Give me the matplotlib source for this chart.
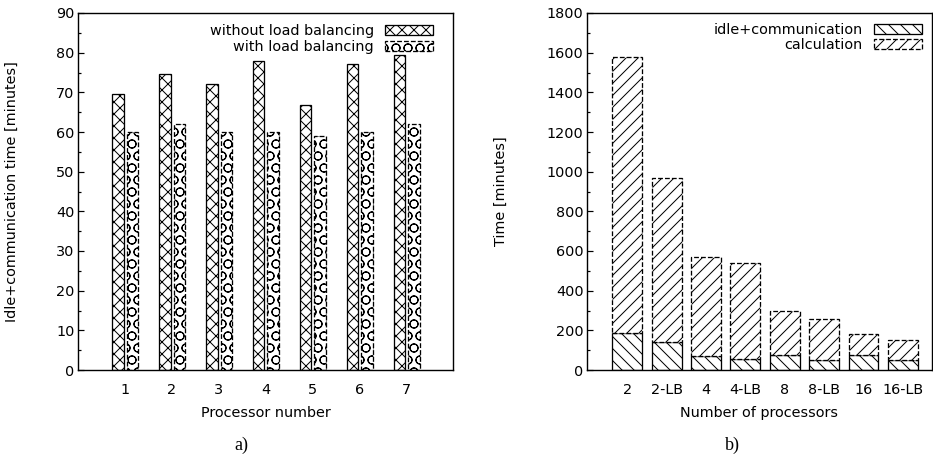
import matplotlib
matplotlib.use("Agg")
import matplotlib.pyplot as plt
import numpy as np

# ---- data ----
procs = [1, 2, 3, 4, 5, 6, 7]
without_lb = [69.5, 74.5, 72.0, 77.8, 66.7, 77.1, 79.5]
with_lb = [60.0, 62.0, 60.0, 60.0, 59.0, 60.0, 62.0]

cats_b = ["2", "2-LB", "4", "4-LB", "8", "8-LB", "16", "16-LB"]
idle_comm = [185, 140, 70, 55, 75, 50, 75, 50]
total_time = [1580, 970, 570, 540, 295, 255, 180, 150]
calc = [t - i for t, i in zip(total_time, idle_comm)]

plt.rcParams['font.family'] = ['DejaVu Sans']
plt.rcParams['hatch.linewidth'] = 1.0
FS = 14.4  # at 72 dpi, points == pixels

W, H = 933, 459
DPI = 72
fig = plt.figure(figsize=(W / DPI, H / DPI), dpi=DPI)

def ax_rect(l, r, t, b):
    return [l / W, (H - b) / H, (r - l) / W, (b - t) / H]

# ---- left panel ----
ax1 = fig.add_axes(ax_rect(78, 453, 13, 370))
x = np.array(procs, dtype=float)
bw = 0.245
ax1.bar(x - 0.145, without_lb, bw, facecolor='white', edgecolor='black',
        linewidth=1.3, hatch='xx', label='without load balancing')
ax1.bar(x + 0.165, with_lb, bw, facecolor='white', edgecolor='black',
        linewidth=1.3, linestyle='--', hatch='O', label='with load balancing')
ax1.set_xlim(0, 8)
ax1.set_ylim(0, 90)
ax1.set_xticks(procs)
ax1.set_yticks(np.arange(0, 91, 10))
ax1.set_yticks(np.arange(5, 90, 10), minor=True)
ax1.tick_params(axis='y', which='both', direction='in', labelsize=FS, right=False,
                width=1.2)
ax1.tick_params(axis='y', which='major', length=6)
ax1.tick_params(axis='y', which='minor', length=3)
ax1.tick_params(axis='x', direction='in', length=0, labelsize=FS, pad=12.5)
ax1.set_xlabel('Processor number', fontsize=FS, labelpad=9.5)
ax1.set_ylabel('Idle+communication time [minutes]', fontsize=FS)
ax1.yaxis.set_label_coords(-(78 - 19) / 375, 0.5)
for s in ax1.spines.values():
    s.set_linewidth(1.4)
ax1.legend(loc='upper right', bbox_to_anchor=(1 - 20 / 375, 1 - 11 / 357),
           frameon=False, markerfirst=False, fontsize=FS,
           handlelength=3.3, handleheight=0.7, handletextpad=0.8,
           labelspacing=0.15, borderaxespad=0, borderpad=0)

# ---- right panel ----
ax2 = fig.add_axes(ax_rect(587, 932, 13, 370))
xb = np.arange(len(cats_b))
bw2 = 0.76
ax2.bar(xb, idle_comm, bw2, facecolor='white', edgecolor='black',
        linewidth=1.3, hatch='\\\\', label='idle+communication')
ax2.bar(xb, calc, bw2, bottom=idle_comm, facecolor='white', edgecolor='black',
        linewidth=1.3, linestyle='--', hatch='//', label='calculation')
ax2.set_xlim(-1.02, 7.74)
ax2.set_ylim(0, 1800)
ax2.set_xticks(xb)
ax2.set_xticklabels(cats_b)
ax2.set_yticks(np.arange(0, 1801, 200))
ax2.set_yticks(np.arange(100, 1800, 200), minor=True)
ax2.tick_params(axis='y', which='both', direction='in', labelsize=FS, right=False,
                width=1.2)
ax2.tick_params(axis='y', which='major', length=6)
ax2.tick_params(axis='y', which='minor', length=3)
ax2.tick_params(axis='x', direction='in', length=0, labelsize=FS, pad=12.5)
ax2.set_xlabel('Number of processors', fontsize=FS, labelpad=9.5)
ax2.set_ylabel('Time [minutes]', fontsize=FS)
ax2.yaxis.set_label_coords(-(587 - 508) / 345, 0.5)
for s in ax2.spines.values():
    s.set_linewidth(1.4)
ax2.legend(loc='upper right', bbox_to_anchor=(1 - 10 / 345, 1 - 10 / 357),
           frameon=False, markerfirst=False, fontsize=FS,
           handlelength=3.3, handleheight=0.7, handletextpad=0.8,
           labelspacing=0.1, borderaxespad=0, borderpad=0)

fig.text(241 / W, 1 - 445 / H, 'a)', fontsize=18, family=['Liberation Serif'],
         ha='center', va='center')
fig.text(732 / W, 1 - 445 / H, 'b)', fontsize=18, family=['Liberation Serif'],
         ha='center', va='center')

fig.savefig('out.png', dpi=DPI)
